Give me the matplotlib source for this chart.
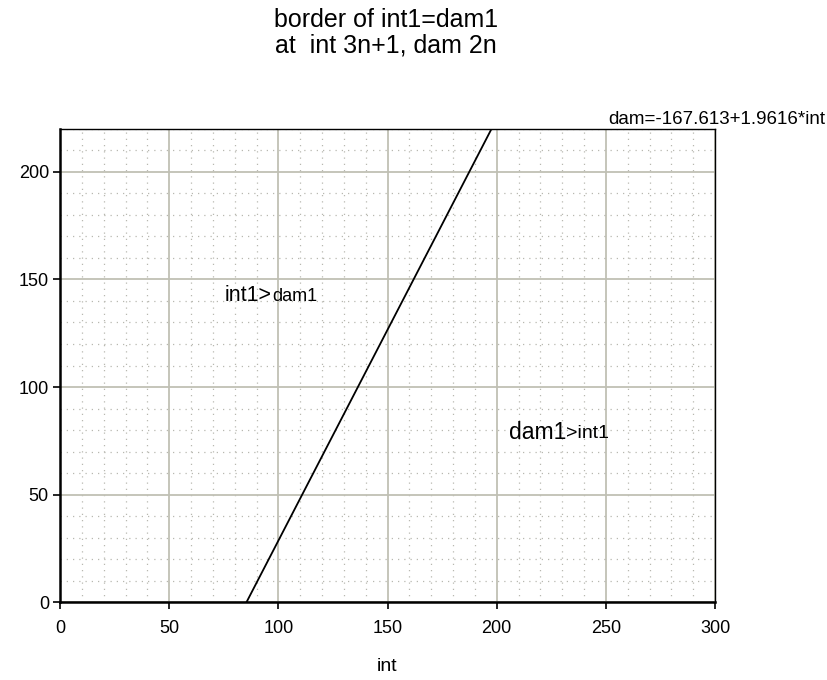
import matplotlib.pyplot as plt
from matplotlib.ticker import MultipleLocator

plt.rcParams['font.family'] = ['Liberation Sans', 'DejaVu Sans']

# border line
int_vals = [85.45, 197.6]
dam_vals = [0, 220]
x_ticks = [0, 50, 100, 150, 200, 250, 300]
y_ticks = [0, 50, 100, 150, 200]

fig = plt.figure(figsize=(8.27, 6.8), dpi=100)
ax = fig.add_axes([0.0726, 0.1147, 0.7920, 0.6956])

ax.plot(int_vals, dam_vals, color='black', linewidth=1.3, zorder=3)

ax.set_xlim(0, 300)
ax.set_ylim(0, 220)
ax.set_xticks(x_ticks)
ax.set_yticks(y_ticks)
ax.xaxis.set_minor_locator(MultipleLocator(10))
ax.yaxis.set_minor_locator(MultipleLocator(10))
ax.grid(which='major', color='#c0c0b4', linewidth=1.3, zorder=0)
ax.grid(which='minor', color='#b8b8b0', linestyle=(0, (1, 4)), linewidth=0.9, zorder=0)
ax.tick_params(which='major', direction='out', length=5, width=1.2, labelsize=13,
               top=False, right=False)
ax.tick_params(axis='x', pad=8)
ax.tick_params(axis='y', pad=3)
ax.tick_params(which='minor', length=0)

ax.spines['left'].set_linewidth(1.8)
ax.spines['bottom'].set_linewidth(1.8)
ax.spines['top'].set_linewidth(1.0)
ax.spines['right'].set_linewidth(1.0)

ax.set_xlabel('int', fontsize=14, labelpad=15)

fig.text(0.467, 0.988, 'border of int1=dam1\nat  int 3n+1, dam 2n', ha='center', va='top',
         fontsize=18, linespacing=1.05)
fig.text(0.998, 0.825, 'dam=-167.613+1.9616*int', ha='right', va='center', fontsize=13.5)

# region labels: big "int1>" followed by smaller "dam1"
t = ax.text(75.5, 142.5, 'int1>', fontsize=15.5, va='center')
ax.annotate('dam1', xy=(1, 0.45), xycoords=t, va='center', fontsize=13)
t2 = ax.text(205.5, 79, 'dam1', fontsize=16.5, va='center')
ax.annotate('>int1', xy=(1, 0.45), xycoords=t2, va='center', fontsize=14)

fig.savefig('out.png', dpi=100)
